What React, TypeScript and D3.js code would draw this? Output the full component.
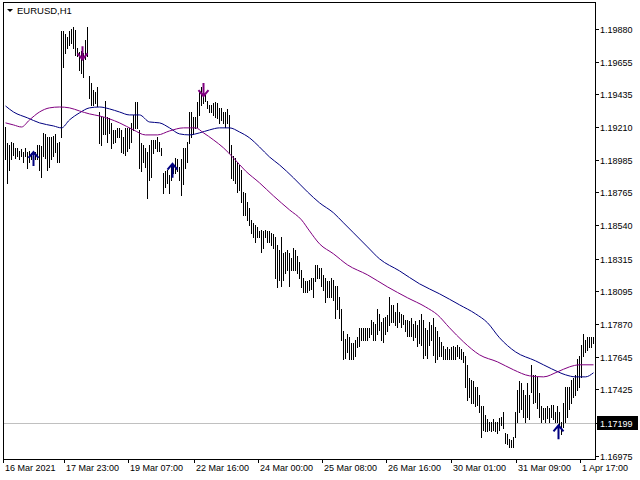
import React from "react";
import * as d3 from "d3";

const highs = [
  1.1921,1.1910,1.1909,1.1911,1.1910,1.1907,1.1907,1.1905,1.1906,1.1904,
  1.1907,1.1904,1.1905,1.1903,1.1904,1.1904,1.1909,1.1909,1.1908,1.1917,
  1.1916,1.1914,1.1914,1.1914,1.1915,1.1916,1.1910,1.1911,1.1986,1.1986,
  1.1984,1.1982,1.1986,1.1988,1.1989,1.1987,1.1975,1.1972,1.1973,1.1971,
  1.1980,1.1989,1.1956,1.1951,1.1946,1.1945,1.1948,1.1931,1.1928,1.1928,
  1.1939,1.1928,1.1927,1.1924,1.1919,1.1919,1.1920,1.1920,1.1919,1.1914,
  1.1920,1.1920,1.1920,1.1924,1.1929,1.1938,1.1938,1.1919,1.1910,1.1909,
  1.1907,1.1904,1.1909,1.1912,1.1912,1.1912,1.1914,1.1911,1.1907,1.1890,
  1.1891,1.1892,1.1888,1.1895,1.1895,1.1900,1.1899,1.1894,1.1899,1.1907,
  1.1907,1.1911,1.1931,1.1931,1.1928,1.1928,1.1938,1.1945,1.1948,1.1945,
  1.1943,1.1939,1.1936,1.1936,1.1937,1.1938,1.1937,1.1934,1.1934,1.1931,
  1.1931,1.1933,1.1929,1.1909,1.1901,1.1900,1.1897,1.1895,1.1892,1.1877,
  1.1876,1.1870,1.1866,1.1858,1.1856,1.1854,1.1853,1.1850,1.1851,1.1850,
  1.1851,1.1850,1.1850,1.1849,1.1848,1.1846,1.1841,1.1837,1.1846,1.1835,
  1.1836,1.1837,1.1835,1.1832,1.1839,1.1837,1.1833,1.1829,1.1824,1.1818,
  1.1816,1.1816,1.1817,1.1818,1.1818,1.1827,1.1827,1.1825,1.1825,1.1820,
  1.1818,1.1816,1.1816,1.1818,1.1817,1.1813,1.1813,1.1805,1.1797,1.1782,
  1.1777,1.1780,1.1778,1.1774,1.1774,1.1776,1.1778,1.1784,1.1784,1.1784,
  1.1784,1.1784,1.1784,1.1790,1.1788,1.1787,1.1797,1.1794,1.1788,1.1791,
  1.1792,1.1793,1.1805,1.1800,1.1800,1.1795,1.1801,1.1795,1.1794,1.1793,
  1.1790,1.1790,1.1789,1.1791,1.1787,1.1789,1.1786,1.1790,1.1794,1.1790,
  1.1784,1.1783,1.1788,1.1786,1.1791,1.1785,1.1782,1.1778,1.1775,1.1772,
  1.1770,1.1771,1.1770,1.1771,1.1772,1.1771,1.1773,1.1771,1.1770,1.1768,
  1.1765,1.1759,1.1750,1.1749,1.1748,1.1744,1.1744,1.1739,1.1731,1.1731,
  1.1725,1.1722,1.1720,1.1720,1.1722,1.1720,1.1720,1.1723,1.1724,1.1727,
  1.1713,1.1712,1.1709,1.1708,1.1710,1.1727,1.1742,1.1748,1.1747,1.1742,
  1.1739,1.1747,1.1739,1.1759,1.1752,1.1752,1.1751,1.1740,1.1731,1.1730,
  1.1730,1.1731,1.1730,1.1732,1.1732,1.1727,1.1731,1.1727,1.1720,1.1733,
  1.1744,1.1744,1.1744,1.1749,1.1750,1.1752,1.1763,1.1765,1.1773,1.1780,
  1.1776,1.1778,1.1778,1.1778,1.1778,
];

const lows = [
  1.1899,1.1883,1.1892,1.1899,1.1902,1.1900,1.1901,1.1899,1.1901,1.1897,
  1.1901,1.1893,1.1897,1.1899,1.1895,1.1899,1.1899,1.1892,1.1887,1.1901,
  1.1900,1.1892,1.1894,1.1899,1.1901,1.1904,1.1897,1.1897,1.1914,1.1962,
  1.1971,1.1975,1.1977,1.1978,1.1975,1.1970,1.1969,1.1960,1.1958,1.1955,
  1.1967,1.1969,1.1941,1.1936,1.1936,1.1937,1.1935,1.1910,1.1909,1.1916,
  1.1916,1.1911,1.1917,1.1907,1.1910,1.1911,1.1914,1.1914,1.1904,1.1903,
  1.1902,1.1905,1.1907,1.1911,1.1919,1.1920,1.1920,1.1893,1.1891,1.1897,
  1.1894,1.1873,1.1885,1.1887,1.1903,1.1907,1.1905,1.1905,1.1902,1.1876,
  1.1880,1.1883,1.1876,1.1885,1.1890,1.1890,1.1891,1.1885,1.1875,1.1882,
  1.1893,1.1897,1.1910,1.1914,1.1916,1.1920,1.1921,1.1929,1.1936,1.1937,
  1.1939,1.1934,1.1931,1.1931,1.1929,1.1928,1.1927,1.1924,1.1926,1.1924,
  1.1921,1.1924,1.1903,1.1886,1.1885,1.1883,1.1877,1.1878,1.1870,1.1861,
  1.1861,1.1858,1.1854,1.1849,1.1846,1.1843,1.1846,1.1846,1.1836,1.1839,
  1.1846,1.1843,1.1843,1.1841,1.1839,1.1818,1.1812,1.1817,1.1813,1.1817,
  1.1822,1.1824,1.1813,1.1824,1.1824,1.1824,1.1822,1.1818,1.1812,1.1809,
  1.1809,1.1809,1.1810,1.1811,1.1805,1.1816,1.1818,1.1818,1.1813,1.1810,
  1.1802,1.1805,1.1805,1.1805,1.1803,1.1791,1.1797,1.1791,1.1776,1.1763,
  1.1764,1.1768,1.1763,1.1763,1.1763,1.1765,1.1771,1.1772,1.1776,1.1776,
  1.1776,1.1776,1.1778,1.1780,1.1776,1.1776,1.1780,1.1783,1.1776,1.1775,
  1.1780,1.1782,1.1786,1.1788,1.1788,1.1786,1.1785,1.1788,1.1785,1.1787,
  1.1782,1.1779,1.1779,1.1779,1.1776,1.1778,1.1772,1.1774,1.1773,1.1764,
  1.1766,1.1764,1.1773,1.1776,1.1766,1.1761,1.1763,1.1765,1.1765,1.1763,
  1.1763,1.1763,1.1763,1.1763,1.1763,1.1763,1.1765,1.1764,1.1763,1.1761,
  1.1744,1.1735,1.1737,1.1733,1.1733,1.1731,1.1732,1.1727,1.1710,1.1715,
  1.1714,1.1714,1.1715,1.1714,1.1715,1.1714,1.1713,1.1715,1.1718,1.1716,
  1.1706,1.1705,1.1703,1.1703,1.1703,1.1710,1.1720,1.1727,1.1729,1.1724,
  1.1720,1.1724,1.1722,1.1741,1.1733,1.1734,1.1730,1.1724,1.1720,1.1722,
  1.1720,1.1723,1.1720,1.1724,1.1722,1.1720,1.1720,1.1718,1.1712,1.1717,
  1.1720,1.1724,1.1729,1.1733,1.1737,1.1739,1.1742,1.1744,1.1751,1.1765,
  1.1768,1.1769,1.1771,1.1771,1.1774,
];

// slow moving average (navy), sampled at bar indices
const blueIdx = [0,4,11,17,24,28,32,37,42,47,52,57,62,67,72,77,82,87,92,97,102,107,112,117,122,127,132,137,144,151,157,164,169,174,181,187,197,207,217,227,235,241,247,255,265,273,280,285,290,294];
const blueVals = [1.19353,1.19312,1.19272,1.19238,1.19217,1.19204,1.19258,1.19306,1.19340,1.19346,1.19333,1.19312,1.19292,1.19292,1.19244,1.19238,1.19204,1.19163,1.19156,1.19170,1.19190,1.19204,1.19204,1.19176,1.19136,1.19074,1.19006,1.18952,1.18864,1.18768,1.18694,1.18626,1.18558,1.18490,1.18394,1.18313,1.18231,1.18143,1.18075,1.18000,1.17939,1.17878,1.17776,1.17680,1.17619,1.17565,1.17524,1.17510,1.17510,1.17538];

// fast moving average (purple)
const purpleIdx = [0,4,8,12,17,22,27,32,37,42,47,52,57,64,70,76,82,89,95,99,104,109,114,120,127,134,142,148,152,157,164,171,181,191,201,210,216,222,229,237,246,254,262,269,276,282,287,294];
const purpleVals = [1.19238,1.19224,1.19210,1.19258,1.19312,1.19340,1.19346,1.19340,1.19319,1.19299,1.19285,1.19265,1.19238,1.19190,1.19156,1.19156,1.19183,1.19204,1.19204,1.19170,1.19122,1.19068,1.18999,1.18911,1.18830,1.18741,1.18646,1.18578,1.18503,1.18415,1.18347,1.18272,1.18204,1.18122,1.18048,1.17986,1.17932,1.17844,1.17748,1.17660,1.17612,1.17558,1.17517,1.17510,1.17544,1.17578,1.17592,1.17592];

const priceTicks = [1.1988, 1.19655, 1.19435, 1.1921, 1.18985, 1.18765, 1.1854, 1.18315, 1.18095, 1.1787, 1.17645, 1.17425, 1.16975];
const currentPrice = 1.17199;

const timeLabels = ["16 Mar 2021", "17 Mar 23:00", "19 Mar 07:00", "22 Mar 16:00", "24 Mar 00:00", "25 Mar 08:00", "26 Mar 16:00", "30 Mar 01:00", "31 Mar 09:00", "1 Apr 17:00"];
const timeLabelBars = [-1.5, 29, 61, 94, 126, 158, 190, 223, 255, 287];

const downArrowBars = [38.5, 99];
const downArrowPrices = [1.1967, 1.1942];
const upArrowBars = [14, 83.5, 276.5];
const upArrowPrices = [1.1904, 1.1896, 1.1718];

const W = 640;
const H = 480;
const FL = 3, FT = 2, FR = 595, FB = 459;
const FONT = "'Liberation Sans', Arial, sans-serif";
const NAVY = "#000080";
const PURPLE = "#800080";

export default function App() {
  const x = d3.scaleLinear().domain([0, highs.length - 1]).range([5.5, 593.5]);
  const y = d3.scaleLinear().domain([1.16975, 1.1988]).range([455.5, 28.5]);

  const line = d3
    .line<[number, number]>()
    .x((d) => x(d[0]))
    .y((d) => y(d[1]))
    .curve(d3.curveMonotoneX);

  const blueData: [number, number][] = blueIdx.map((b, k) => [b, blueVals[k]]);
  const purpleData: [number, number][] = purpleIdx.map((b, k) => [b, purpleVals[k]]);

  const arrowDown = (cx: number, tip: number) =>
    `M${cx},${tip - 13} L${cx},${tip} M${cx - 5},${tip - 6} L${cx},${tip} L${cx + 5},${tip - 6}`;
  const arrowUp = (cx: number, tip: number) =>
    `M${cx},${tip + 14} L${cx},${tip} M${cx - 5},${tip + 6} L${cx},${tip} L${cx + 5},${tip + 6}`;

  const cy = Math.round(y(currentPrice)) + 0.5;

  return (
    <svg
      width={W}
      height={H}
      viewBox={`0 0 ${W} ${H}`}
      style={{ position: "absolute", left: 0, top: 0, background: "#fff" }}
    >
      <rect x={0} y={0} width={W} height={H} fill="#fff" />
      {/* current price line */}
      <line x1={FL} x2={FR} y1={cy} y2={cy} stroke="#c0c0c0" strokeWidth={1} />

      {/* bars */}
      <g shapeRendering="crispEdges">
        {highs.map((h, i) => {
          const yt = Math.round(y(h));
          const yb = Math.round(y(lows[i]));
          return (
            <rect key={i} x={x(i) - 0.5} y={yt} width={1} height={Math.max(1, yb - yt + 1)} fill="#000" />
          );
        })}
      </g>

      {/* moving averages */}
      <path d={line(blueData) || ""} fill="none" stroke={NAVY} strokeWidth={1} />
      <path d={line(purpleData) || ""} fill="none" stroke={PURPLE} strokeWidth={1} />

      {/* arrows */}
      {downArrowBars.map((b, k) => (
        <path key={"d" + k} d={arrowDown(x(b), y(downArrowPrices[k]))} fill="none" stroke={PURPLE} strokeWidth={2} />
      ))}
      {upArrowBars.map((b, k) => (
        <path key={"u" + k} d={arrowUp(x(b), y(upArrowPrices[k]))} fill="none" stroke={NAVY} strokeWidth={2} />
      ))}

      {/* frame */}
      <rect x={FL + 0.5} y={FT + 0.5} width={FR - FL} height={FB - FT} fill="none" stroke="#000" strokeWidth={1} shapeRendering="crispEdges" />

      {/* title */}
      <path d="M7,9 L13,9 L10,12 Z" fill="#000" />
      <text x={17} y={14} fontFamily={FONT} fontSize={9.5} fill="#000">EURUSD,H1</text>

      {/* price axis */}
      <g shapeRendering="crispEdges">
        {priceTicks.map((p) => {
          const py = Math.round(y(p)) + 0.5;
          return <line key={p} x1={FR} x2={FR + 4} y1={py} y2={py} stroke="#000" />;
        })}
      </g>
      {priceTicks.map((p) => (
        <text key={"t" + p} x={600} y={Math.round(y(p)) + 3.5} fontFamily={FONT} fontSize={9} fill="#000">
          {p.toFixed(5)}
        </text>
      ))}
      <line x1={FR} x2={FR + 4} y1={cy} y2={cy} stroke="#000" shapeRendering="crispEdges" />
      <rect x={597} y={cy - 7.5} width={41} height={14} fill="#000" />
      <text x={600} y={cy + 3.5} fontFamily={FONT} fontSize={9} fill="#fff">
        {currentPrice.toFixed(5)}
      </text>

      {/* time axis */}
      <g shapeRendering="crispEdges">
        {timeLabelBars.map((b, k) => {
          const tx = Math.round(x(b)) + 0.5;
          return <line key={k} x1={tx} x2={tx} y1={FB} y2={FB + 4} stroke="#000" />;
        })}
      </g>
      {timeLabels.map((t, k) => (
        <text key={t} x={Math.round(x(timeLabelBars[k])) + 2} y={471} fontFamily={FONT} fontSize={9} fill="#000">
          {t}
        </text>
      ))}
    </svg>
  );
}
